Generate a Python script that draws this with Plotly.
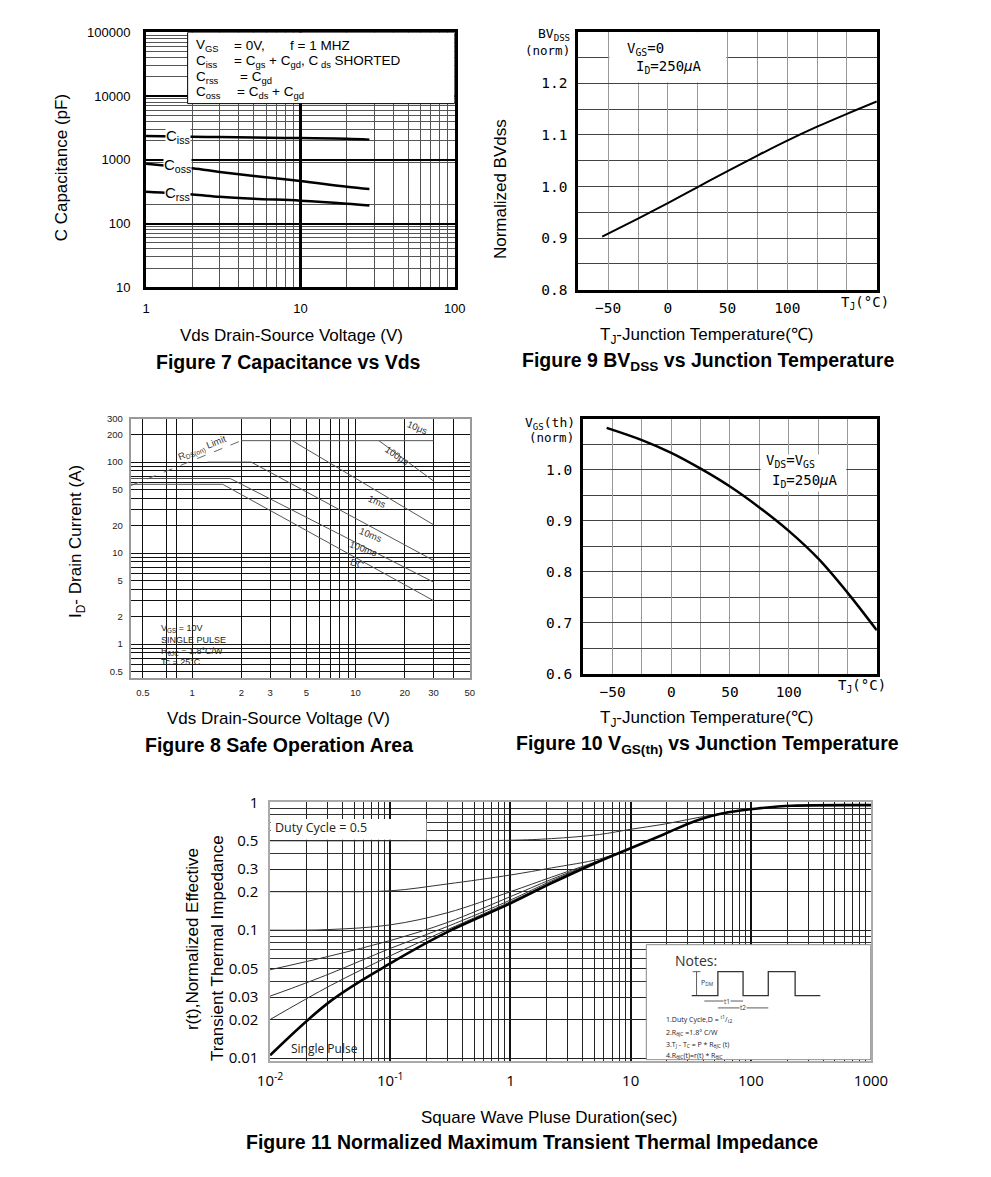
import math
import plotly.graph_objects as go

# The page body keeps its default 8px margin, so the figure is drawn 8px in
# from the top-left corner and sized so the page is exactly 991 x 1177.
PAGE_W, PAGE_H, OFF = 991, 1177, 8
W, H = PAGE_W - 2 * OFF, PAGE_H - 2 * OFF
def px(v): return (v - OFF) / W
def py(v): return 1 - (v - OFF) / H
L10 = math.log10

# ---------------- data ----------------
# Figure 7: capacitance vs Vds
cap_vds = [1, 2, 3, 5, 10, 20, 28]
cap_ciss = [2350, 2300, 2270, 2230, 2190, 2140, 2070]
cap_coss = [870, 735, 645, 558, 465, 377, 347]
cap_crss = [315, 285, 263, 245, 228, 205, 192]

# Figure 9 / 10: normalized values vs junction temperature
tj_c = [-55, -25, 0, 25, 50, 75, 100, 125, 150, 175]
bvdss_norm = [0.903, 0.938, 0.968, 0.999, 1.03, 1.06, 1.089, 1.116, 1.141, 1.165]
vgsth_norm = [1.082, 1.058, 1.033, 1.002, 0.967, 0.926, 0.88, 0.826, 0.759, 0.685]

# Figure 8: safe operating area (V, A)
soa_10us_v, soa_10us_i = [2, 30], [172, 172]
soa_100us_v, soa_100us_i = [13.9, 30], [172, 62]
soa_1ms_v, soa_1ms_i = [4.1, 30], [172, 20.5]
soa_10ms_v, soa_10ms_i = [1.24, 2.3, 30], [100, 100, 8.3]
soa_100ms_v, soa_100ms_i = [0.42, 1.71, 30], [66, 66, 4.8]
soa_dc_v, soa_dc_i = [0.42, 1.54, 30], [57, 57, 3.0]
soa_rds_v, soa_rds_i = [0.42, 2], [55, 172]

# Figure 11: transient thermal impedance
t_sp = [0.01, 0.032, 0.1, 0.3, 1, 2.2, 5.5, 9, 19, 35, 65, 120, 220, 1000]
z_sp = [0.0105, 0.028, 0.055, 0.097, 0.162, 0.233, 0.346, 0.42, 0.563, 0.718, 0.835, 0.9, 0.94, 0.95]
t_d50 = [0.01, 0.1, 1, 2.2, 5.5, 10, 19, 35, 65]
z_d50 = [0.5, 0.5, 0.505, 0.52, 0.56, 0.615, 0.675, 0.755, 0.838]
t_d20 = [0.01, 0.03, 0.1, 0.3, 1, 2.2, 5.5, 9]
z_d20 = [0.2, 0.2, 0.203, 0.23, 0.27, 0.307, 0.36, 0.42]
t_d10 = [0.01, 0.03, 0.1, 0.3, 1, 2.2, 5.5]
z_d10 = [0.1, 0.101, 0.11, 0.137, 0.2, 0.26, 0.35]
t_d05 = [0.01, 0.032, 0.1, 0.3, 1, 2.2, 5.5]
z_d05 = [0.049, 0.063, 0.083, 0.115, 0.183, 0.25, 0.348]
t_d02 = [0.01, 0.015, 0.032, 0.1, 0.3, 1, 2.2, 5.5]
z_d02 = [0.0305, 0.035, 0.046, 0.072, 0.107, 0.172, 0.243, 0.347]
t_d01 = [0.01, 0.032, 0.1, 0.3, 1, 2.2, 5.5]
z_d01 = [0.02, 0.037, 0.063, 0.101, 0.167, 0.238, 0.346]

# tick / grid values
cap_x_ticks = [1, 10, 100]
cap_x_minor = [2, 3, 4, 5, 6, 7, 8, 9, 20, 30, 40, 50, 60, 70, 80, 90]
cap_y_ticks = [10, 100, 1000, 10000, 100000]
cap_y_minor = [20, 30, 40, 50, 60, 70, 80, 90, 200, 900,
               2000, 3000, 4000, 5000, 6000, 7000, 8000, 9000,
               20000, 30000, 40000, 50000, 60000, 70000, 80000, 90000]
soa_x_ticks = [0.5, 1, 2, 3, 5, 10, 20, 30, 50]
soa_x_minor = [0.7, 0.8, 4, 6, 7, 8, 9, 40]
soa_y_ticks = [0.5, 1, 2, 5, 10, 20, 50, 100, 200, 300]
soa_y_minor = [0.6, 0.7, 0.8, 0.9, 3, 4, 6, 7, 8, 9, 30, 40, 60, 70, 80, 90]
zth_x_ticks = [0.01, 0.1, 1, 10, 100, 1000]
zth_x_text = ["10<sup>-2</sup>", "10<sup>-1</sup>", "1", "10", "100", "1000"]
zth_x_minor = [m * d for d in [0.01, 0.1, 1, 10, 100] for m in range(2, 10)]
zth_y_ticks = [0.01, 0.02, 0.03, 0.05, 0.1, 0.2, 0.3, 0.5, 1]
zth_y_minor = [0.04, 0.06, 0.07, 0.08, 0.09, 0.4, 0.6, 0.7, 0.8, 0.9]

fig = go.Figure()

def line(x, y, xa, ya, color="black", width=1, dash="solid", shape="linear"):
    fig.add_trace(go.Scatter(x=x, y=y, xaxis=xa, yaxis=ya, mode="lines",
                             line=dict(color=color, width=width, dash=dash, shape=shape),
                             hoverinfo="skip"))

def box(x0, x1, y0, y1, xa, ya, border=None, bw=1):
    fig.add_trace(go.Scatter(x=[x0, x1, x1, x0, x0], y=[y0, y0, y1, y1, y0],
                             xaxis=xa, yaxis=ya, mode="lines", fill="toself",
                             fillcolor="white",
                             line=dict(color=border or "white", width=bw if border else 0),
                             hoverinfo="skip"))

# Figure 7
box(1.86, 100, 7600, 100000, "x", "y", border="black", bw=1)
for s in (cap_ciss, cap_coss, cap_crss):
    line(cap_vds, s, "x", "y", width=2.5, shape="spline")

# Figure 9
box(-49, 49, 1.2015, 1.299, "x2", "y2")
line(tj_c, bvdss_norm, "x2", "y2", width=2, shape="spline")

# Figure 8
g = "#555"
line(soa_rds_v, soa_rds_i, "x3", "y3", color="#666", width=1, dash="dash")
line(soa_10us_v, soa_10us_i, "x3", "y3", color=g)
line(soa_100us_v, soa_100us_i, "x3", "y3", color=g)
line(soa_1ms_v, soa_1ms_i, "x3", "y3", color=g)
line(soa_10ms_v, soa_10ms_i, "x3", "y3", color=g)
line(soa_100ms_v, soa_100ms_i, "x3", "y3", color=g)
line(soa_dc_v, soa_dc_i, "x3", "y3", color=g)

# Figure 10
box(76, 149, 0.957, 1.03, "x4", "y4")
line(tj_c, vgsth_norm, "x4", "y4", width=2.5, shape="spline")

# Figure 11
box(0.0101, 0.2, 0.51, 0.74, "x5", "y5")
box(13.5, 995, 0.0097, 0.077, "x5", "y5", border="#888", bw=1)
for t, z in ((t_d50, z_d50), (t_d20, z_d20), (t_d10, z_d10), (t_d05, z_d05),
             (t_d02, z_d02), (t_d01, z_d01)):
    line(t, z, "x5", "y5", color="#333", width=1, shape="spline")
line(t_sp, z_sp, "x5", "y5", color="black", width=2.6, shape="spline")


def axis(domain, anchor, rng, tickvals, ticktext, minor_vals, typ="linear",
         gcolor="black", gw=1, mcolor="#555", mw=1, lcolor="black", lw=3,
         font=None, standoff=5):
    return dict(domain=domain, anchor=anchor, type=typ, range=rng,
                tickmode="array", tickvals=tickvals, ticktext=ticktext,
                showgrid=True, gridcolor=gcolor, gridwidth=gw,
                minor=dict(tickmode="array", tickvals=minor_vals, showgrid=True,
                           gridcolor=mcolor, gridwidth=mw, ticks=""),
                showline=True, mirror=True, linecolor=lcolor, linewidth=lw,
                ticks="", zeroline=False, tickfont=font,
                ticklabelstandoff=standoff, fixedrange=True)

f7font = dict(family="Liberation Sans", size=13, color="black")
tfont = dict(family="DejaVu Sans Mono", size=14.5, color="black")
f8font = dict(family="Liberation Sans", size=9.5, color="#222")
f11font = dict(family="Open Sans", size=15, color="black")

fig.update_layout(
    width=W, height=H, margin=dict(l=0, r=0, t=0, b=0),
    paper_bgcolor="white", plot_bgcolor="white", showlegend=False,
    xaxis=axis([px(137), px(455.5)], "y", [0, 2], cap_x_ticks, ["1", "10", "100"],
               cap_x_minor, typ="log", gcolor="black", gw=2.5, mcolor="#555",
               font=f7font, standoff=7),
    yaxis=axis([py(281.5), py(22.5)], "x", [1, 5], cap_y_ticks,
               ["10", "100", "1000", "10000", "100000"], cap_y_minor, typ="log",
               gcolor="black", gw=2, mcolor="#555", font=f7font, standoff=10),
    xaxis2=axis([px(583), px(891)], "y2", [-75, 175], [-50, 0, 50, 100, 150],
                ["\u221250", "0", "50", "100", ""], [-25, 25, 75, 125],
                gcolor="#999", mcolor="#999", font=tfont, standoff=3),
    yaxis2=axis([py(284), py(22)], "x2", [0.8, 1.3], [0.8, 0.9, 1.0, 1.1, 1.2],
                ["0.8", "0.9", "1.0", "1.1", "1.2"], [0.85, 0.95, 1.05, 1.15, 1.25],
                gcolor="#444", mcolor="#444", font=tfont, standoff=5),
    xaxis3=axis([px(121), px(471)], "y3", [L10(0.42), L10(50)], soa_x_ticks,
                [str(v) for v in soa_x_ticks], soa_x_minor, typ="log",
                gcolor="#111", mcolor="#111", lcolor="#999", lw=1.5, font=f8font, standoff=5),
    yaxis3=axis([py(678), py(415)], "x3", [-0.369, L10(300)], soa_y_ticks,
                [str(v) for v in soa_y_ticks], soa_y_minor, typ="log",
                gcolor="#111", mcolor="#111", lcolor="#999", lw=1.5, font=f8font, standoff=4),
    xaxis4=axis([px(588), px(891)], "y4", [-75, 175], [-50, 0, 50, 100, 150],
                ["\u221250", "0", "50", "100", ""], [-25, 25, 75, 125],
                gcolor="#999", mcolor="#999", font=tfont, standoff=3),
    yaxis4=axis([py(674), py(415)], "x4", [0.6, 1.1], [0.6, 0.7, 0.8, 0.9, 1.0],
                ["0.6", "0.7", "0.8", "0.9", "1.0"], [0.65, 0.75, 0.85, 0.95, 1.05],
                gcolor="#444", mcolor="#444", font=tfont, standoff=5),
    xaxis5=axis([px(265), px(885)], "y5", [-2, 3], zth_x_ticks, zth_x_text,
                zth_x_minor, typ="log", gcolor="#111", gw=2, mcolor="#222",
                lcolor="#aaa", lw=1.5, font=f11font, standoff=6),
    yaxis5=axis([py(1067), py(804)], "x5", [-2.02, 0.005], zth_y_ticks,
                ["0.01", "0.02", "0.03", "0.05", "0.1", "0.2", "0.3", "0.5", "1"],
                zth_y_minor, typ="log", gcolor="#222", mcolor="#333",
                lcolor="#aaa", lw=1.5, font=f11font, standoff=7),
)

ann = []
def T(text, x, y, size=14, family="Liberation Sans", xanchor="center",
      yanchor="middle", angle=0, color="black", xref="paper", yref="paper", bg=None):
    d = dict(text=text, x=x, y=y, xref=xref, yref=yref, showarrow=False,
             font=dict(size=size, family=family, color=color),
             xanchor=xanchor, yanchor=yanchor, textangle=angle)
    if bg:
        d.update(bgcolor=bg, borderpad=0)
    ann.append(d)

def P(text, X, Y, **kw):
    T(text, px(X), py(Y), **kw)

# titles / captions
AT = 17
CP = 19.5
P("C Capacitance (pF)", 50, 160, size=AT, angle=-90)
P("Vds Drain-Source Voltage (V)", 287, 331, size=AT)
P("<b>Figure 7 Capacitance vs Vds</b>", 284, 357, size=CP)
P("Normalized BVdss", 503, 182, size=AT, angle=-90)
P("T<sub>J</sub>-Junction Temperature(\u2103)", 716, 331, size=AT)
P("<b>Figure 9 BV<sub>DSS</sub> vs Junction Temperature</b>", 717, 357, size=CP)
P("I<sub>D</sub>- Drain Current (A)", 66, 540, size=AT, angle=-90)
P("Vds Drain-Source Voltage (V)", 274, 720, size=AT)
P("<b>Figure 8 Safe Operation Area</b>", 274, 746, size=CP)
P("T<sub>J</sub>-Junction Temperature(\u2103)", 716, 720, size=AT)
P("<b>Figure 10 V<sub>GS(th)</sub> vs Junction Temperature</b>", 716, 746, size=CP)
P("r(t),Normalized Effective", 185, 944, size=AT, angle=-90)
P("Transient Thermal Impedance", 211, 953, size=AT, angle=-90)
P("Square Wave Pluse Duration(sec)", 553, 1125, size=AT)
P("<b>Figure 11 Normalized Maximum Transient Thermal Impedance</b>", 535, 1150, size=CP)

# Figure 7 conditions box
f7 = dict(size=13.5, xanchor="left")
for lab, yy in (("V<sub>GS</sub>", 36), ("C<sub>iss</sub>", 52), ("C<sub>rss</sub>", 68), ("C<sub>oss</sub>", 84)):
    P(lab, 186, yy, **f7)
P("= 0V,", 226, 36, **f7)
P("f = 1 MHZ", 283, 36, **f7)
P("= C<sub>gs</sub> + C<sub>gd</sub>, C<sub> ds</sub> SHORTED", 226, 52, **f7)
P("= C<sub>gd</sub>", 232, 68, **f7)
P("= C<sub>ds</sub> + C<sub>gd</sub>", 229, 84, **f7)
for lab, val in (("C<sub>iss</sub>", 2330), ("C<sub>oss</sub>", 800), ("C<sub>rss</sub>", 300)):
    T(lab, L10(1.6), L10(val), size=15, xref="x", yref="y", bg="white")

# Figure 9 labels
mono = "DejaVu Sans Mono"
P("BV<sub>DSS</sub>", 576, 25, size=13, family=mono, xanchor="right")
P("(norm)", 576, 41, size=12.5, family=mono, xanchor="right")
P("V<sub>GS</sub>=0", 631, 39, size=14, family=mono, xanchor="left")
P("I<sub>D</sub>=250<i>\u03bc</i>A", 640, 58, size=14, family=mono, xanchor="left")
P("T<sub>J</sub>(\u00b0C)", 879, 297, size=14, family=mono)

# Figure 10 labels
P("V<sub>GS</sub>(th)", 582, 420, size=13, family=mono, xanchor="right")
P("(norm)", 581, 434, size=12.5, family=mono, xanchor="right")
P("V<sub>DS</sub>=V<sub>GS</sub>", 775, 458, size=14, family=mono, xanchor="left")
P("I<sub>D</sub>=250<i>\u03bc</i>A", 781, 478, size=14, family=mono, xanchor="left")
P("T<sub>J</sub>(\u00b0C)", 876, 687, size=14, family=mono)

# Figure 8 labels
s8 = dict(size=9.5, color="#333", xref="x3", yref="y3")
T("R<sub>DS(on)</sub> Limit", L10(1.15), L10(140), angle=-22, **s8)
T("10\u03bcs", L10(24), L10(240), angle=22, **s8)
T("100\u03bcs", L10(18), L10(118), angle=34, **s8)
T("1ms", L10(13.6), L10(37), angle=24, **s8)
T("10ms", L10(12.3), L10(16), angle=22, **s8)
T("100ms", L10(11.2), L10(11.2), angle=20, **s8)
T("DC", L10(10.2), L10(7.6), angle=18, **s8)
for txt, yy in (("V<sub>GS</sub> = 10V", 628), ("SINGLE PULSE", 640),
                ("R<sub>\u03b8JC</sub> = 1.8\u00b0C/W", 651), ("Tc = 25\u00b0C", 662)):
    P(txt, 150, yy, size=9, color="#222", xanchor="left")

# Figure 11 labels
P("Duty Cycle = 0.5", 268, 830, size=12.5, family="Open Sans", xanchor="left", color="#222")
P("Single Pulse", 284, 1055, size=12, family="Open Sans", xanchor="left", color="#222")
P("Notes:", 681, 965, size=14, family="Open Sans", xanchor="left", color="#333")
P("P<sub>DM</sub>", 708, 988, size=7, family="Open Sans", xanchor="left", color="#333")
P("t1", 736, 1006.5, size=6.5, family="Open Sans", color="#333", bg="white")
P("t2", 753, 1013.5, size=6.5, family="Open Sans", color="#333", bg="white")
notes = ["1.Duty Cycle,D = <sup>t1</sup>/<sub>t2</sub>",
         "2.R<sub>\u03b8JC</sub> =1.8\u00b0 C/W",
         "3.T<sub>J</sub> - T<sub>C</sub> = P * R<sub>\u03b8JC</sub> (t)",
         "4.R<sub>\u03b8JC</sub>(t)=r(t) * R<sub>\u03b8JC</sub>"]
for txt, yy in zip(notes, (1025, 1038, 1050.5, 1062)):
    P(txt, 671, yy, size=7, family="Open Sans", xanchor="left", color="#222")

fig.update_layout(annotations=ann)

# notes waveform drawing (paper coordinates)
wave = [(700, 1001), (727, 1001), (727, 976.7), (753, 976.7), (753, 1001), (779, 1001),
        (779, 976.7), (806.7, 976.7), (806.7, 1001), (832.7, 1001)]
path = "M " + " L ".join(f"{px(a):.5f},{py(b):.5f}" for a, b in wave)
shapes = [dict(type="path", xref="paper", yref="paper", path=path,
               line=dict(color="#333", width=1.3), layer="above")]
def seg(x0, y0, x1, y1, w=0.8):
    shapes.append(dict(type="line", xref="paper", yref="paper", x0=px(x0), y0=py(y0),
                       x1=px(x1), y1=py(y1), line=dict(color="#333", width=w), layer="above"))
seg(705, 976.7, 705, 1001)
seg(701, 976.7, 709, 976.7)
seg(713, 1006.5, 753, 1006.5)
seg(727, 1013.5, 779, 1013.5)
fig.update_layout(shapes=shapes)

fig.write_html("out.html", config={"displayModeBar": False})
